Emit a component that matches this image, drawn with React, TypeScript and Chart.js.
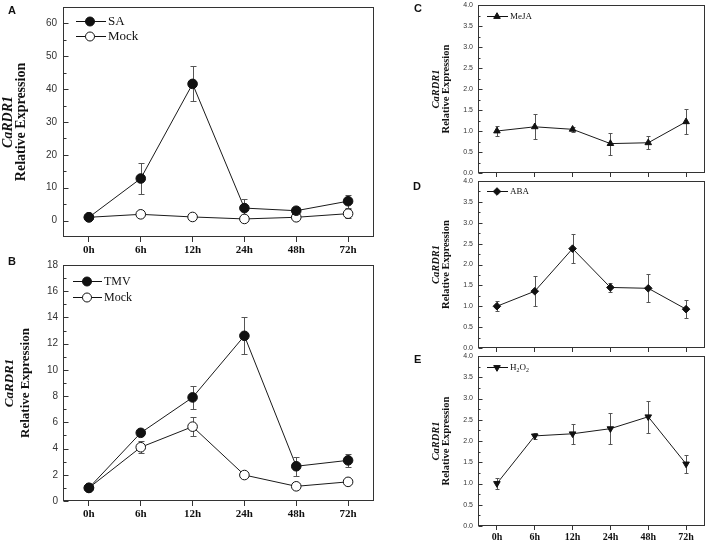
import React, { useEffect, useRef } from 'react';
import { Chart, registerables } from 'chart.js';

Chart.register(...registerables);

// ---------- data ----------
const hours = ['0h', '6h', '12h', '24h', '48h', '72h'];

const saMean = [1.0, 12.8, 41.6, 3.8, 3.0, 5.9];
const saErr = [0.5, 4.6, 5.3, 2.9, 1.2, 2.0];
const mockAMean = [1.0, 1.9, 1.1, 0.5, 1.0, 2.1];
const mockAErr = [0.5, 0.6, 0.4, 0.5, 0.6, 1.3];

const tmvMean = [1.0, 5.2, 7.9, 12.6, 2.65, 3.1];
const tmvErr = [0.1, 0.2, 0.9, 1.4, 0.72, 0.5];
const mockBMean = [1.0, 4.1, 5.67, 1.98, 1.12, 1.46];
const mockBErr = [0.1, 0.45, 0.72, 0.1, 0.1, 0.15];

const mejaMean = [1.0, 1.1, 1.04, 0.7, 0.72, 1.22];
const mejaErr = [0.12, 0.3, 0.06, 0.26, 0.16, 0.3];

const abaMean = [1.0, 1.36, 2.38, 1.45, 1.43, 0.93];
const abaErr = [0.12, 0.36, 0.35, 0.1, 0.34, 0.22];

const h2o2Mean = [1.0, 2.12, 2.17, 2.29, 2.57, 1.46];
const h2o2Err = [0.12, 0.07, 0.24, 0.37, 0.37, 0.21];

const yTicksA = [0, 10, 20, 30, 40, 50, 60];
const yTicksB = [0, 2, 4, 6, 8, 10, 12, 14, 16, 18];
const yTicksSmall = [0, 0.5, 1.0, 1.5, 2.0, 2.5, 3.0, 3.5, 4.0];

const titleGene = 'CaRDR1';
const titleMain = 'Relative Expression';

// ---------- types ----------
type MarkerStyle = 'circle' | 'triangle' | 'triangleDown' | 'diamond';
type Series = {
  label: string;
  values: number[];
  errors: number[];
  style: MarkerStyle;
  filled: boolean;
  sub?: boolean;
};
type PanelCfg = {
  letter: string;
  letterPos: [number, number];
  canvas: { x: number; y: number; w: number; h: number };
  plot: { l: number; t: number; r: number; b: number };
  yMin: number;
  yMax: number;
  yTicks: number[];
  decimals: number;
  yFont: number;
  yPad: number;
  xFont: number;
  showX: boolean;
  xTickLen: number;
  xPad: number;
  titleSize: number;
  titleOff: [number, number];
  legend: { x0: number; xm: number; x1: number; xt: number; ys: number[]; size: number; r: number };
  radius: number;
  capHalf: number;
  majorLen: number;
  minorLen: number;
  series: Series[];
};

const SERIF = '"Liberation Serif", "DejaVu Serif", serif';
const SANS = '"Liberation Sans", Arial, sans-serif';

function drawMarker(ctx: CanvasRenderingContext2D, style: MarkerStyle, x: number, y: number, r: number, filled: boolean) {
  ctx.beginPath();
  if (style === 'circle') {
    ctx.arc(x, y, r, 0, Math.PI * 2);
  } else if (style === 'triangle' || style === 'triangleDown') {
    let rad = style === 'triangleDown' ? Math.PI : 0;
    ctx.moveTo(x + Math.sin(rad) * r, y - Math.cos(rad) * r);
    rad += (2 * Math.PI) / 3;
    ctx.lineTo(x + Math.sin(rad) * r, y - Math.cos(rad) * r);
    rad += (2 * Math.PI) / 3;
    ctx.lineTo(x + Math.sin(rad) * r, y - Math.cos(rad) * r);
  } else {
    ctx.moveTo(x - r, y);
    ctx.lineTo(x, y - r);
    ctx.lineTo(x + r, y);
    ctx.lineTo(x, y + r);
  }
  ctx.closePath();
  ctx.fillStyle = filled ? '#111' : '#fff';
  ctx.fill();
  ctx.strokeStyle = '#111';
  ctx.lineWidth = 1;
  ctx.stroke();
}

function drawLabel(ctx: CanvasRenderingContext2D, text: string, x: number, y: number, size: number, sub: boolean) {
  ctx.textAlign = 'left';
  ctx.textBaseline = 'middle';
  ctx.fillStyle = '#111';
  if (!sub) {
    ctx.font = `${size}px ${SERIF}`;
    ctx.fillText(text, x, y);
    return;
  }
  let cx = x;
  for (const ch of text) {
    const isDigit = /[0-9]/.test(ch);
    const fs = isDigit ? size * 0.65 : size;
    ctx.font = `${fs}px ${SERIF}`;
    ctx.fillText(ch, cx, isDigit ? y + size * 0.3 : y);
    cx += ctx.measureText(ch).width;
  }
}

function makeDecor(p: PanelCfg) {
  return {
    id: 'decor' + p.letter,
    beforeDatasetsDraw(chart: any) {
      const ctx: CanvasRenderingContext2D = chart.ctx;
      const ys = chart.scales.y;
      ctx.save();
      ctx.strokeStyle = '#555';
      ctx.lineWidth = 1;
      p.series.forEach((s, i) => {
        const meta = chart.getDatasetMeta(i);
        s.values.forEach((v, j) => {
          const e = s.errors[j];
          const pt = meta.data[j];
          const x = Math.round(pt.x) + 0.5;
          const y1 = Math.round(ys.getPixelForValue(v + e)) + 0.5;
          const y2 = Math.round(ys.getPixelForValue(v - e)) + 0.5;
          ctx.beginPath();
          ctx.moveTo(x, y1);
          ctx.lineTo(x, y2);
          ctx.moveTo(x - p.capHalf, y1);
          ctx.lineTo(x + p.capHalf, y1);
          ctx.moveTo(x - p.capHalf, y2);
          ctx.lineTo(x + p.capHalf, y2);
          ctx.stroke();
        });
      });
      ctx.restore();
    },
    afterDraw(chart: any) {
      const ctx: CanvasRenderingContext2D = chart.ctx;
      const a = chart.chartArea;
      const ys = chart.scales.y;
      ctx.save();
      // frame
      ctx.strokeStyle = '#333';
      ctx.lineWidth = 1;
      const L = Math.round(a.left) + 0.5;
      const T = Math.round(a.top) + 0.5;
      const R = Math.round(a.right) - 0.5;
      const B = Math.round(a.bottom) - 0.5;
      ctx.strokeRect(L, T, R - L, B - T);
      // inward y ticks, major + minor
      ctx.beginPath();
      p.yTicks.forEach((v, i) => {
        const py = Math.round(ys.getPixelForValue(v)) + 0.5;
        ctx.moveTo(L, py);
        ctx.lineTo(L + p.majorLen, py);
        if (i < p.yTicks.length - 1) {
          const mv = (v + p.yTicks[i + 1]) / 2;
          const my = Math.round(ys.getPixelForValue(mv)) + 0.5;
          ctx.moveTo(L, my);
          ctx.lineTo(L + p.minorLen, my);
        }
      });
      ctx.stroke();
      // y title (two lines, rotated)
      const cy = (a.top + a.bottom) / 2;
      ctx.fillStyle = '#111';
      ctx.textAlign = 'center';
      ctx.textBaseline = 'middle';
      ctx.save();
      ctx.translate(a.left + p.titleOff[0], cy);
      ctx.rotate(-Math.PI / 2);
      ctx.font = `italic bold ${p.titleSize}px ${SERIF}`;
      ctx.fillText(titleGene, 0, 0);
      ctx.restore();
      ctx.save();
      ctx.translate(a.left + p.titleOff[1], cy);
      ctx.rotate(-Math.PI / 2);
      ctx.font = `bold ${p.titleSize}px ${SERIF}`;
      ctx.fillText(titleMain, 0, 0);
      ctx.restore();
      // legend
      const lg = p.legend;
      p.series.forEach((s, i) => {
        const y = a.top + lg.ys[i] + 0.5;
        ctx.strokeStyle = '#111';
        ctx.lineWidth = 1;
        ctx.beginPath();
        ctx.moveTo(a.left + lg.x0, y);
        ctx.lineTo(a.left + lg.x1, y);
        ctx.stroke();
        drawMarker(ctx, s.style, a.left + lg.xm, y, lg.r, s.filled);
        drawLabel(ctx, s.label, a.left + lg.xt, y, lg.size, !!s.sub);
      });
      ctx.restore();
    },
  };
}

function fmt(v: number, d: number) {
  return d > 0 ? v.toFixed(d) : String(v);
}

function Panel({ p }: { p: PanelCfg }) {
  const ref = useRef<HTMLCanvasElement>(null);
  useEffect(() => {
    const c = ref.current!;
    const yW = p.plot.l - p.canvas.x;
    const xH = p.canvas.y + p.canvas.h - p.plot.b;
    const padTop = p.plot.t - p.canvas.y;
    const padRight = p.canvas.x + p.canvas.w - p.plot.r;
    const chart = new Chart(c, {
      type: 'line',
      data: {
        labels: hours,
        datasets: p.series.map((s) => ({
          label: s.label,
          data: s.values,
          borderColor: '#1a1a1a',
          borderWidth: 1,
          tension: 0,
          fill: false,
          pointStyle: s.style === 'triangleDown' ? 'triangle' : s.style === 'diamond' ? 'rectRot' : s.style,
          rotation: s.style === 'triangleDown' ? 180 : 0,
          pointRadius: p.radius,
          pointHoverRadius: p.radius,
          pointBackgroundColor: s.filled ? '#111' : '#fff',
          pointBorderColor: '#111',
          pointBorderWidth: 1,
        })) as any,
      },
      options: {
        animation: false,
        responsive: false,
        events: [],
        layout: { padding: { left: 0, top: padTop, right: padRight, bottom: 0 } },
        plugins: { legend: { display: false }, tooltip: { enabled: false }, title: { display: false } },
        scales: {
          x: {
            type: 'category',
            offset: true,
            grid: {
              display: true,
              drawOnChartArea: false,
              drawTicks: true,
              tickLength: p.xTickLen,
              color: '#333',
              lineWidth: 1,
            },
            border: { display: false },
            ticks: {
              display: p.showX,
              autoSkip: false,
              maxRotation: 0,
              padding: p.xPad,
              color: '#111',
              font: { family: SERIF, weight: 'bold', size: p.xFont },
            },
            afterFit: (s: any) => {
              s.height = xH;
            },
          },
          y: {
            type: 'linear',
            min: p.yMin,
            max: p.yMax,
            afterBuildTicks: (s: any) => {
              s.ticks = p.yTicks.map((v) => ({ value: v }));
            },
            grid: { display: false, drawTicks: false },
            border: { display: false },
            ticks: {
              padding: p.yPad,
              color: '#333',
              font: { family: SANS, size: p.yFont },
              callback: (v: any) => fmt(Number(v), p.decimals),
            },
            afterFit: (s: any) => {
              s.width = yW;
            },
          },
        },
      } as any,
      plugins: [makeDecor(p) as any],
    });
    return () => chart.destroy();
  }, [p]);
  return (
    <canvas
      ref={ref}
      width={p.canvas.w}
      height={p.canvas.h}
      style={{ position: 'absolute', left: p.canvas.x, top: p.canvas.y, width: p.canvas.w, height: p.canvas.h }}
    />
  );
}

const smallLegend = (y: number) => ({ x0: 9, xm: 19, x1: 30, xt: 32, ys: [y], size: 9, r: 3.8 });

const panels: PanelCfg[] = [
  {
    letter: 'A',
    letterPos: [8, 5],
    canvas: { x: 0, y: -5, w: 385, h: 263 },
    plot: { l: 63, t: 7, r: 374, b: 237 },
    yMin: -5,
    yMax: 65,
    yTicks: yTicksA,
    decimals: 0,
    yFont: 10,
    yPad: 6,
    xFont: 11,
    showX: true,
    xTickLen: 5,
    xPad: 2,
    titleSize: 14,
    titleOff: [-55, -42],
    legend: { x0: 13, xm: 27, x1: 43, xt: 45, ys: [14, 29], size: 13, r: 4.5 },
    radius: 4.8,
    capHalf: 3,
    majorLen: 5,
    minorLen: 3,
    series: [
      { label: 'SA', values: saMean, errors: saErr, style: 'circle', filled: true },
      { label: 'Mock', values: mockAMean, errors: mockAErr, style: 'circle', filled: false },
    ],
  },
  {
    letter: 'B',
    letterPos: [8, 256],
    canvas: { x: 0, y: 253, w: 385, h: 268 },
    plot: { l: 63, t: 265, r: 374, b: 501 },
    yMin: 0,
    yMax: 18,
    yTicks: yTicksB,
    decimals: 0,
    yFont: 10,
    yPad: 5,
    xFont: 11,
    showX: true,
    xTickLen: 5,
    xPad: 2,
    titleSize: 13,
    titleOff: [-53, -37],
    legend: { x0: 10, xm: 24, x1: 39, xt: 41, ys: [16, 32], size: 12, r: 4.5 },
    radius: 4.8,
    capHalf: 3,
    majorLen: 5,
    minorLen: 3,
    series: [
      { label: 'TMV', values: tmvMean, errors: tmvErr, style: 'circle', filled: true },
      { label: 'Mock', values: mockBMean, errors: mockBErr, style: 'circle', filled: false },
    ],
  },
  {
    letter: 'C',
    letterPos: [414, 3],
    canvas: { x: 420, y: -7, w: 298, h: 190 },
    plot: { l: 478, t: 5, r: 705, b: 173 },
    yMin: 0,
    yMax: 4,
    yTicks: yTicksSmall,
    decimals: 1,
    yFont: 7,
    yPad: 5,
    xFont: 10,
    showX: false,
    xTickLen: 4,
    xPad: 1,
    titleSize: 10.5,
    titleOff: [-42, -32],
    legend: smallLegend(11),
    radius: 3.8,
    capHalf: 2,
    majorLen: 4,
    minorLen: 2,
    series: [{ label: 'MeJA', values: mejaMean, errors: mejaErr, style: 'triangle', filled: true }],
  },
  {
    letter: 'D',
    letterPos: [413, 181],
    canvas: { x: 420, y: 169, w: 298, h: 189 },
    plot: { l: 478, t: 181, r: 705, b: 348 },
    yMin: 0,
    yMax: 4,
    yTicks: yTicksSmall,
    decimals: 1,
    yFont: 7,
    yPad: 5,
    xFont: 10,
    showX: false,
    xTickLen: 4,
    xPad: 1,
    titleSize: 10.5,
    titleOff: [-42, -32],
    legend: smallLegend(10),
    radius: 3.8,
    capHalf: 2,
    majorLen: 4,
    minorLen: 2,
    series: [{ label: 'ABA', values: abaMean, errors: abaErr, style: 'diamond', filled: true }],
  },
  {
    letter: 'E',
    letterPos: [414, 354],
    canvas: { x: 420, y: 344, w: 298, h: 202 },
    plot: { l: 478, t: 356, r: 705, b: 526 },
    yMin: 0,
    yMax: 4,
    yTicks: yTicksSmall,
    decimals: 1,
    yFont: 7,
    yPad: 5,
    xFont: 10,
    showX: true,
    xTickLen: 4,
    xPad: 1,
    titleSize: 10.5,
    titleOff: [-42, -32],
    legend: smallLegend(11),
    radius: 3.8,
    capHalf: 2,
    majorLen: 4,
    minorLen: 2,
    series: [{ label: 'H2O2', values: h2o2Mean, errors: h2o2Err, style: 'triangleDown', filled: true, sub: true }],
  },
];

export default function App() {
  return (
    <div
      style={{
        position: 'absolute',
        left: 0,
        top: 0,
        width: 708,
        height: 541,
        overflow: 'hidden',
        background: '#fff',
      }}
    >
      {panels.map((p) => (
        <Panel key={p.letter} p={p} />
      ))}
      {panels.map((p) => (
        <div
          key={'L' + p.letter}
          style={{
            position: 'absolute',
            left: p.letterPos[0],
            top: p.letterPos[1],
            font: `bold 11px ${SANS}`,
            lineHeight: '11px',
            color: '#111',
          }}
        >
          {p.letter}
        </div>
      ))}
    </div>
  );
}
